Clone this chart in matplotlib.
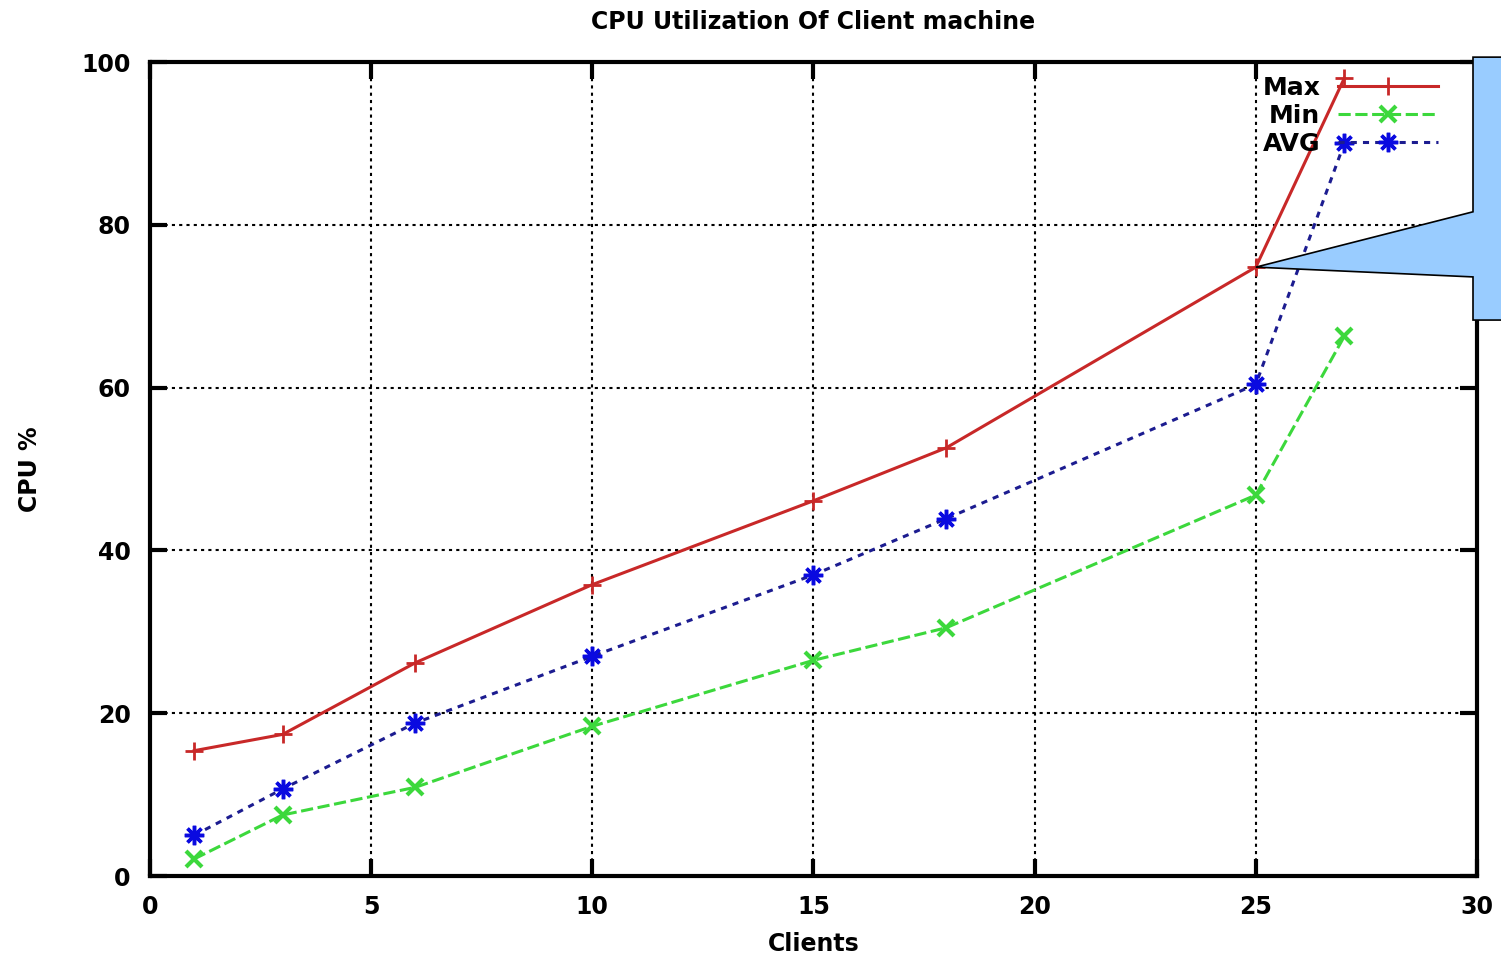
import matplotlib
matplotlib.use("Agg")
import matplotlib.pyplot as plt
from matplotlib.patches import Polygon

# Werte
clients = [1, 3, 6, 10, 15, 18, 25, 27]
max_cpu = [15.4, 17.4, 26.2, 35.8, 46.1, 52.6, 74.8, 98.0]
min_cpu = [2.1, 7.5, 10.9, 18.4, 26.5, 30.5, 46.8, 66.3]
avg_cpu = [5.0, 10.7, 18.8, 27.0, 37.0, 43.9, 60.4, 90.0]

x_ticks = [0, 5, 10, 15, 20, 25, 30]
y_ticks = [0, 20, 40, 60, 80, 100]

plt.rcParams['font.family'] = ['DejaVu Sans']
plt.rcParams['font.weight'] = 'bold'

fig = plt.figure(figsize=(15.01, 9.57), dpi=100)
ax = fig.add_axes([0.0999, 0.0846, 0.8841, 0.8506])

ax.plot(clients, max_cpu, color='#c82828', lw=2.2, ls='-', marker='+',
        ms=13, mew=2, label='Max', zorder=3)
ax.plot(clients, min_cpu, color='#3cd83c', lw=2.2, ls=(0, (4, 1.5)), marker='x',
        ms=12, mew=3, label='Min', zorder=3)
ax.plot(clients, avg_cpu, color='#1c1c90', lw=2.2, ls=(0, (2, 2)), marker=(8, 2, 0),
        ms=14, mew=2.5, mec='#0a0ae0', label='AVG', zorder=3)

ax.set_xlim(x_ticks[0], x_ticks[-1])
ax.set_ylim(y_ticks[0], y_ticks[-1])
ax.set_xticks(x_ticks)
ax.set_yticks(y_ticks)
ax.grid(True, color='black', ls=(0, (1.5, 2)), lw=1.5)
ax.tick_params(direction='in', length=12, width=3, labelsize=17,
               top=True, right=True, pad=14)
for lbl in ax.get_xticklabels() + ax.get_yticklabels():
    lbl.set_fontweight('bold')
for s in ax.spines.values():
    s.set_linewidth(3)

ax.set_title('CPU Utilization Of Client machine', fontsize=17, fontweight='bold', pad=24)
ax.set_xlabel('Clients', fontsize=17, fontweight='bold', labelpad=9)
ax.set_ylabel('CPU %', fontsize=17, fontweight='bold', labelpad=28)

leg = ax.legend(loc='upper right', bbox_to_anchor=(0.978, 0.995), frameon=False,
                markerfirst=False, fontsize=18, handlelength=4.0, handletextpad=0.7,
                labelspacing=0.15, borderaxespad=0)
for t in leg.get_texts():
    t.set_fontweight('bold')

# Sprechblase, die auf den Max-Wert bei 25 Clients zeigt
tip = (clients[6], max_cpu[6])
callout = Polygon([(29.91, 100.6), (30.8, 100.6), (30.8, 68.3), (29.91, 68.3),
                   (29.91, 73.6), tip, (29.91, 81.6)],
                  closed=True, facecolor='#99ccff', edgecolor='black', lw=1.2,
                  clip_on=False, zorder=5)
ax.add_patch(callout)

fig.savefig('out.png', dpi=100)
